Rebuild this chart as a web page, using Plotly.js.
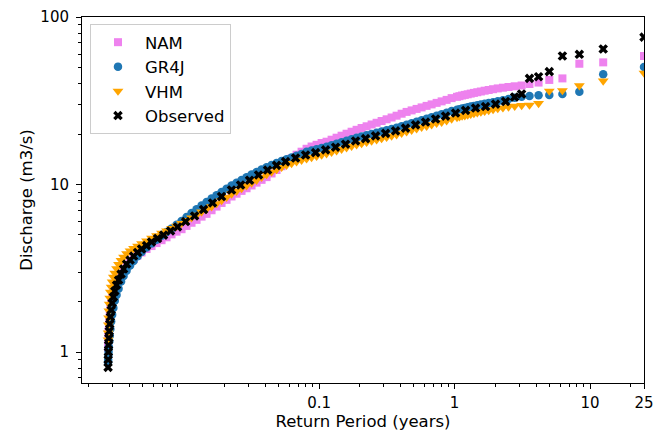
<!DOCTYPE html>
<html>
<head>
<meta charset="utf-8">
<script src="https://cdn.plot.ly/plotly-3.0.1.min.js"></script>
<style>
  html, body { margin: 0; padding: 0; background: #fff; }
  #chart { width: 654px; height: 431px; }
</style>
</head>
<body>
<div id="chart"></div>
<script>
// Return periods (years) for the simulated flow series (shared by the three models)
const returnPeriodModel = [
  0.002772, 0.002777, 0.002786, 0.002796, 0.00281, 0.002829, 0.002853, 0.002883, 0.002922, 0.002972,
  0.003033, 0.003107, 0.003202, 0.003313, 0.003457, 0.003607, 0.003796, 0.004029, 0.004276, 0.004575,
  0.004898, 0.005332,
  0.005803, 0.006318, 0.006878, 0.007488, 0.008153, 0.008876, 0.009663, 0.01052, 0.01145, 0.01247,
  0.01358, 0.01478, 0.01609, 0.01752, 0.01907, 0.02076, 0.0226, 0.02461, 0.02679, 0.02917,
  0.03175, 0.03457, 0.03764, 0.04098, 0.04461, 0.04857, 0.05288, 0.05757, 0.06268, 0.06824,
  0.07429, 0.08088, 0.08805, 0.09586, 0.1044, 0.1136, 0.1237, 0.1347, 0.1466, 0.1596,
  0.1738, 0.1892, 0.206, 0.2243, 0.2442, 0.2658, 0.2894, 0.3151, 0.343, 0.3734,
  0.4066, 0.4426, 0.4819, 0.5246, 0.5712, 0.6218, 0.677, 0.737, 0.8024, 0.8736,
  0.9511,
  1.042, 1.087, 1.136, 1.19, 1.25, 1.316, 1.389, 1.471, 1.563, 1.667, 1.786, 1.923, 2.083, 2.273,
  2.5, 2.778, 3.125,
  3.571, 4.167, 5, 6.25, 8.333, 12.5, 25
];

// NAM simulated discharge (m3/s)
const namQ = [
  1.06, 1.13, 1.23, 1.32, 1.43, 1.55, 1.69, 1.83, 1.99, 2.15,
  2.30, 2.44, 2.60, 2.75, 2.92, 3.09, 3.26, 3.42, 3.59, 3.77,
  3.93, 4.12,
  4.29, 4.47, 4.65, 4.84, 5.04, 5.23, 5.41, 5.66, 5.91, 6.15,
  6.43, 6.68, 7.02, 7.38, 7.76, 8.10, 8.48, 8.81, 9.16, 9.50,
  9.87, 10.26, 10.66, 11.07, 11.64, 12.21, 12.85, 13.60, 14.31, 15.06,
  15.70, 16.34, 16.86, 17.26, 17.69, 18.01, 18.51, 19.03, 19.56, 20.10,
  20.66, 21.21, 21.75, 22.26, 22.82, 23.36, 23.94, 24.51, 25.12, 25.75,
  26.46, 27.13, 27.70, 28.27, 28.86, 29.47, 30.08, 30.71, 31.35, 32.00,
  32.79,
  33.39, 33.67, 33.99, 34.27, 34.56, 34.89, 35.23, 35.56, 35.91, 36.31, 36.66, 37.06, 37.47, 37.84,
  38.20, 38.58, 39.00,
  39.8, 40.6, 42.1, 43.0, 52.6, 53.6, 58.5
];

// GR4J simulated discharge (m3/s)
const gr4jQ = [
  0.87, 0.90, 0.95, 1.00, 1.07, 1.16, 1.25, 1.37, 1.52, 1.67,
  1.83, 2.02, 2.19, 2.39, 2.64, 2.84, 3.06, 3.28, 3.50, 3.73,
  3.95, 4.20,
  4.44, 4.68, 4.94, 5.20, 5.46, 5.75, 6.06, 6.40, 6.76, 7.11,
  7.49, 7.86, 8.25, 8.62, 9.02, 9.43, 9.86, 10.23, 10.64, 11.04,
  11.47, 11.87, 12.29, 12.67, 13.08, 13.44, 13.82, 14.16, 14.50, 14.84,
  15.21, 15.68, 15.96, 16.23, 16.52, 16.82, 17.16, 17.52, 17.89, 18.26,
  18.64, 19.00, 19.35, 19.67, 20.02, 20.35, 20.72, 21.07, 21.45, 21.83,
  22.29, 22.75, 23.23, 23.71, 24.21, 24.71, 25.23, 25.75, 26.29, 26.84,
  27.51,
  27.93, 28.16, 28.39, 28.63, 28.91, 29.19, 29.47, 29.75, 30.04, 30.33, 30.67, 31.00, 31.43, 31.87,
  32.39, 32.93, 33.39,
  33.8, 34.1, 34.2, 34.7, 35.8, 45.5, 50.3
];

// VHM simulated discharge (m3/s)
const vhmQ = [
  1.18, 1.30, 1.45, 1.60, 1.76, 1.93, 2.10, 2.28, 2.44, 2.62,
  2.80, 2.96, 3.15, 3.33, 3.52, 3.69, 3.87, 4.01, 4.15, 4.29,
  4.44, 4.60,
  4.79, 4.95, 5.12, 5.29, 5.47, 5.64, 5.87, 6.11, 6.33, 6.57,
  6.86, 7.11, 7.37, 7.69, 8.03, 8.39, 8.78, 9.12, 9.48, 9.83,
  10.22, 10.62, 11.04, 11.46, 11.87, 12.29, 12.67, 13.04, 13.37, 13.68,
  13.97, 14.24, 14.50, 14.74, 15.01, 15.28, 15.59, 15.92, 16.25, 16.59,
  16.93, 17.26, 17.57, 17.86, 18.19, 18.49, 18.82, 19.13, 19.48, 19.83,
  20.24, 20.66, 21.09, 21.54, 21.99, 22.29, 22.75, 23.23, 23.55, 24.04,
  24.64,
  25.16, 25.37, 25.61, 25.75, 26.00, 26.29, 26.58, 26.84, 27.09, 27.35, 27.66, 28.00, 28.39, 28.70,
  29.02, 29.35, 29.63,
  29.8, 30.5, 36.1, 36.4, 38.9, 41.5, 46.3
];

// Observed flows: return periods (years) and discharge (m3/s)
const returnPeriodObs = [
  0.002772, 0.002777, 0.002786, 0.002796, 0.00281, 0.002829, 0.002853, 0.002883, 0.002922, 0.002972,
  0.003033, 0.003107, 0.003202, 0.003313, 0.003457, 0.003607, 0.003796, 0.004029, 0.004276, 0.004575,
  0.004898, 0.005332,
  0.005803, 0.006428, 0.007117, 0.008016, 0.00903, 0.01035, 0.01206, 0.01405, 0.01637, 0.01907,
  0.0226, 0.02634, 0.03069, 0.03577, 0.04168, 0.04857, 0.05659, 0.06708, 0.07951, 0.09423,
  0.1117, 0.1324, 0.1569, 0.186, 0.2204, 0.2612, 0.3096, 0.3669, 0.4349, 0.5155,
  0.6109, 0.7241, 0.8582, 1.017, 1.206, 1.429, 1.693, 2.007, 2.379, 2.773, 3.123,
  3.571, 4.167, 5, 6.25, 8.333, 12.5, 25
];
const observedQ = [
  0.81, 0.90, 1.00, 1.10, 1.21, 1.33, 1.47, 1.62, 1.78, 1.96,
  2.13, 2.31, 2.51, 2.69, 2.92, 3.13, 3.35, 3.54, 3.74, 3.93,
  4.12, 4.32,
  4.54, 4.76, 4.99, 5.28, 5.58, 6.01, 6.49, 7.09, 7.76, 8.48,
  9.27, 9.93, 10.6, 11.4, 12.2, 13.0, 13.7, 14.4, 15.0, 15.5,
  16.1, 16.7, 17.4, 18.2, 18.8, 19.5, 20.2, 20.9, 21.7, 22.7,
  23.6, 24.6, 25.6, 26.7, 27.7, 28.6, 29.2, 30.2, 31.3, 33.3, 34.7,
  43.0, 44.0, 47.2, 58.5, 59.9, 64.4, 75.8
];

// Axis ticks
const xTickVals = [0.1, 1, 10, 25];
const xTickText = ['0.1', '1', '10', '25'];
const xMinorVals = [0.002, 0.003, 0.004, 0.005, 0.006, 0.007, 0.008, 0.009,
  0.02, 0.03, 0.04, 0.05, 0.06, 0.07, 0.08, 0.09,
  0.2, 0.3, 0.4, 0.5, 0.6, 0.7, 0.8, 0.9,
  2, 3, 4, 5, 6, 7, 8, 9, 20];
const yTickVals = [1, 10, 100];
const yTickText = ['1', '10', '100'];
const yMinorVals = [0.7, 0.8, 0.9, 2, 3, 4, 5, 6, 7, 8, 9, 20, 30, 40, 50, 60, 70, 80, 90];

const FONT = 'DejaVu Sans, Arial, sans-serif';

const traces = [
  { name: 'NAM', x: returnPeriodModel, y: namQ, type: 'scatter', mode: 'markers', legendgroup: 'a',
    marker: { symbol: 'square', size: 8, color: '#EE82EE', line: { width: 0 } } },
  { name: 'GR4J', x: returnPeriodModel, y: gr4jQ, type: 'scatter', mode: 'markers', legendgroup: 'b',
    marker: { symbol: 'circle', size: 8.5, color: '#1f77b4', line: { width: 0 } } },
  { name: 'VHM', x: returnPeriodModel, y: vhmQ, type: 'scatter', mode: 'markers', legendgroup: 'c',
    marker: { symbol: 'triangle-down', size: 9.5, color: '#FFA500', line: { width: 0 } } },
  { name: 'Observed', x: returnPeriodObs, y: observedQ, type: 'scatter', mode: 'markers', legendgroup: 'd',
    marker: { symbol: 'x', size: 8.5, color: '#000000', line: { width: 0 } } }
];

const axisCommon = {
  type: 'log',
  showgrid: false,
  zeroline: false,
  showline: true,
  linecolor: '#000',
  linewidth: 1,
  mirror: true,
  ticks: 'outside',
  ticklen: 5,
  tickwidth: 1,
  tickcolor: '#000',
  tickmode: 'array',
  tickfont: { family: FONT, size: 15, color: '#000' }
};

const layout = {
  width: 654,
  height: 431,
  margin: { l: 82, r: 10, t: 17, b: 48 },
  paper_bgcolor: '#fff',
  plot_bgcolor: '#fff',
  showlegend: true,
  xaxis: Object.assign({}, axisCommon, {
    range: [Math.log10(0.00178), Math.log10(25)],
    tickvals: xTickVals,
    ticktext: xTickText,
    ticklabelstandoff: 1,
    minor: { tickmode: 'array', tickvals: xMinorVals, ticks: 'outside', ticklen: 3, tickwidth: 1, tickcolor: '#000', showgrid: false },
    title: { text: 'Return Period (years)', font: { family: FONT, size: 16.5, color: '#000' }, standoff: 2 }
  }),
  yaxis: Object.assign({}, axisCommon, {
    range: [-0.185, 2],
    tickvals: yTickVals,
    ticktext: yTickText,
    ticklabelstandoff: 4,
    minor: { tickmode: 'array', tickvals: yMinorVals, ticks: 'outside', ticklen: 3, tickwidth: 1, tickcolor: '#000', showgrid: false },
    title: { text: 'Discharge (m3/s)', font: { family: FONT, size: 16.5, color: '#000' }, standoff: 3 }
  }),
  legend: {
    x: 0.0142, y: 0.981, xanchor: 'left', yanchor: 'top',
    bgcolor: 'rgba(255,255,255,0.8)',
    bordercolor: '#cccccc', borderwidth: 1,
    font: { family: FONT, size: 16.5, color: '#000' },
    tracegroupgap: 0,
    itemwidth: 44,
    itemsizing: 'trace'
  }
};

Plotly.newPlot('chart', traces, layout, { displayModeBar: false, staticPlot: true });
</script>
</body>
</html>
